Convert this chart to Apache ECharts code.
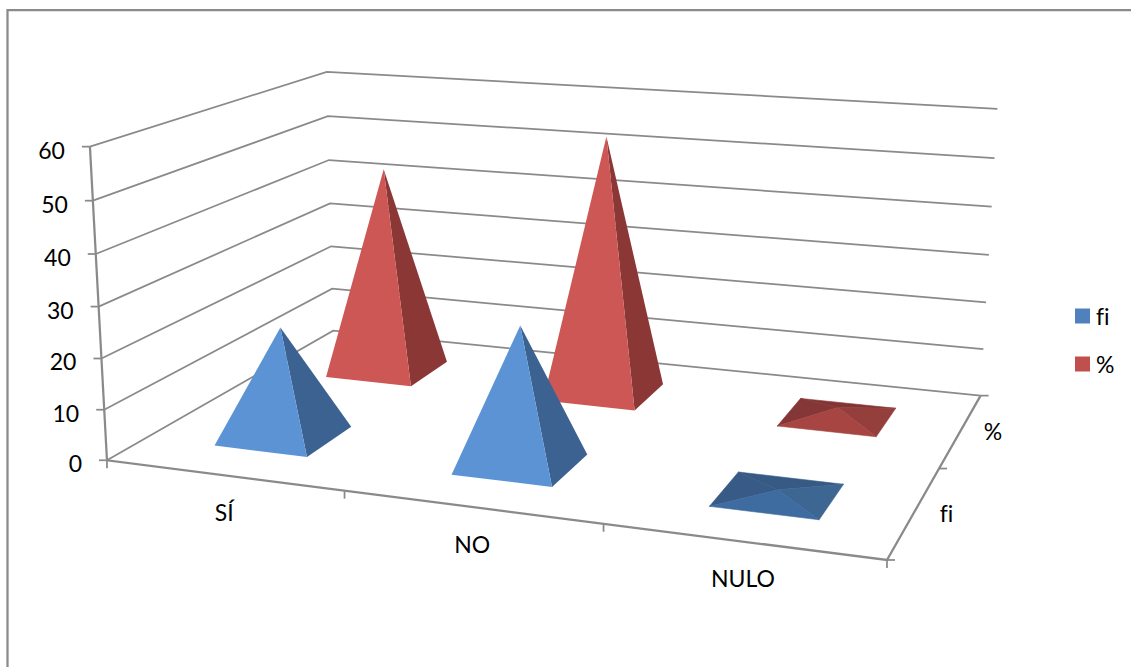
<!DOCTYPE html>
<html>
<head>
<meta charset="utf-8">
<style>html,body{margin:0;padding:0;background:#fff}#c{width:1131px;height:667px}text{font-variant-ligatures:none !important}</style>
<script src="https://cdn.jsdelivr.net/npm/echarts@6/dist/echarts.min.js"></script>
</head>
<body>
<div id="c"></div>
<script>
// ---- data ----
const categories = ['SÍ', 'NO', 'NULO'];
const depthNames = ['fi', '%'];
const valueTicks = [0, 10, 20, 30, 40, 50, 60];
const fiValues = [22, 27, 1];
const pctValues = [44, 54, 2];

// ---- colours ----
const LINE = '#8a8a8a', TEXT = '#000000', FONT = '23px Lato, "Open Sans", sans-serif';
const SHADES = {
  fi:  { tall: { front: '#5b93d5', right: '#3c6291' }, flat: { front: '#3e6ba0', right: '#3d6693', back: '#375a84', left: '#375b86' } },
  pct: { tall: { front: '#cd5754', right: '#8a3736' }, flat: { front: '#a74543', right: '#953f3d', back: '#833534', left: '#853636' } }
};

// ---- view: maps chart space (x along categories, y = value share, z = depth) to the page ----
const VIEW_POINTS = [
  // x, y, z, page x, page y
  [0, 0, 0, 107.5, 460.5], [1, 0, 0, 887, 560], [1, 0, 1, 980.5, 395.5], [0, 0, 1, 333, 331],
  [0, 1, 0, 90, 147], [0, 1, 1, 327, 72], [1, 1, 1, 997.3, 108.7],
  [0, .5, 0, 98, 306], [0, .5, 1, 330, 203], [1, .5, 1, 989, 255]
];
function fitView(pts) {
  const n = 11, A = Array.from({ length: n }, () => new Array(n + 1).fill(0));
  const add = (r, b) => { for (let i = 0; i < n; i++) { for (let j = 0; j < n; j++) A[i][j] += r[i] * r[j]; A[i][n] += r[i] * b; } };
  pts.forEach(([x, y, z, px, py]) => {
    const u = px / 1000, v = py / 1000;
    add([x, y, z, 1, 0, 0, 0, 0, -u * x, -u * y, -u * z], u);
    add([0, 0, 0, 0, x, y, z, 1, -v * x, -v * y, -v * z], v);
  });
  for (let i = 0; i < n; i++) {
    let p = i;
    for (let k = i + 1; k < n; k++) if (Math.abs(A[k][i]) > Math.abs(A[p][i])) p = k;
    [A[i], A[p]] = [A[p], A[i]];
    for (let k = 0; k < n; k++) if (k !== i) {
      const f = A[k][i] / A[i][i];
      for (let j = i; j <= n; j++) A[k][j] -= f * A[i][j];
    }
  }
  return A.map((r, i) => r[n] / r[i]);
}
const M = fitView(VIEW_POINTS);
function project(x, y, z) {
  const w = M[8] * x + M[9] * y + M[10] * z + 1;
  return [1000 * (M[0] * x + M[1] * y + M[2] * z + M[3]) / w, 1000 * (M[4] * x + M[5] * y + M[6] * z + M[7]) / w];
}

// hidden cartesian that supplies the scales
const GRID = { left: 100, top: 100, width: 600, height: 300 };
const BAR_W = 0.4, BAR_D = 0.4;
const toX = px => (px - GRID.left) / GRID.width;
const toY = py => (GRID.top + GRID.height - py) / GRID.height;
const line = (points, width) => ({ type: 'polyline', shape: { points }, style: { stroke: LINE, lineWidth: width || 1.75, fill: null } });
const label = (text, p, align) => ({ type: 'text', style: { text, x: p[0], y: p[1], font: FONT, fill: TEXT, align: align || 'center', verticalAlign: 'middle' } });

function renderPyramid(key, zIndex) {
  return function (params, api) {
    const c = api.coord([api.value(0), api.value(1)]);
    const bw = api.size([1, 0])[0] / GRID.width;
    const x = toX(c[0]), h = toY(c[1]);
    const z = (zIndex + 0.5) / depthNames.length;
    const dx = bw * BAR_W / 2, dz = BAR_D / depthNames.length / 2;
    const fl = project(x - dx, 0, z - dz), fr = project(x + dx, 0, z - dz);
    const br = project(x + dx, 0, z + dz), bl = project(x - dx, 0, z + dz);
    const top = project(x, h, z);
    const flat = api.value(1) < 5;
    const s = flat ? SHADES[key].flat : SHADES[key].tall;
    const face = (pts, fill) => ({ type: 'polygon', shape: { points: pts }, style: flat ? { fill, stroke: fill, lineWidth: 0.6 } : { fill } });
    const children = [];
    if (flat) {
      children.push(face([bl, br, top], s.back), face([bl, fl, top], s.left));
    }
    children.push(face([fr, br, top], s.right), face([fl, fr, top], s.front));
    return { type: 'group', children };
  };
}

function renderValueAxis(params, api) {
  const c = api.coord([0, api.value(1)]);
  const h = toY(c[1]);
  const a = project(0, h, 0), b = project(0, h, 1), d = project(1, h, 1);
  return { type: 'group', children: [
    line([a, b, d]),
    line([[a[0] - 8, a[1]], a]),
    label(String(api.value(1)), [a[0] - 25, a[1] + 3], 'right')
  ] };
}
function renderCategoryAxis(params, api) {
  const i = api.value(0);
  const c = api.coord([i, 0]);
  const bw = api.size([1, 0])[0] / GRID.width;
  const x = toX(c[0]);
  const m = project(x, 0, 0), t = project(x + bw / 2, 0, 0);
  const kids = [line([t, [t[0], t[1] + 8]]), label(categories[i], [m[0] + 1, m[1] + 37])];
  if (i === 0) { const s = project(0, 0, 0); kids.push(line([s, [s[0], s[1] + 8]])); }
  return { type: 'group', children: kids };
}
function renderDepthAxis(params, api) {
  const j = api.value(0), n = depthNames.length;
  const m = project(1, 0, (j + 0.5) / n), t = project(1, 0, (j + 1) / n);
  const kids = [line([t, [t[0] + 8, t[1]]]), label(depthNames[j], [m[0] + 32, m[1] + 1])];
  if (j === 0) { const s = project(1, 0, 0); kids.push(line([s, [s[0] + 8, s[1]]])); }
  return { type: 'group', children: kids };
}
function renderFrame() {
  const a = project(0, 0, 0), b = project(1, 0, 0), c = project(1, 0, 1), d = project(0, 1, 0);
  return { type: 'group', children: [line([d, a, b, c], 2.25)] };
}

const chart = echarts.init(document.getElementById('c'), null, { renderer: 'svg' });
chart.setOption({
  animation: false,
  backgroundColor: '#ffffff',
  grid: GRID,
  xAxis: { type: 'category', data: categories, show: false },
  yAxis: { type: 'value', min: 0, max: 60, interval: 10, show: false },
  legend: {
    data: ['fi', '%'], orient: 'vertical', left: 1075, top: 304, icon: 'rect',
    itemWidth: 15, itemHeight: 15, itemGap: 24,
    textStyle: { fontFamily: 'Lato', fontSize: 23, lineHeight: 22, color: TEXT, padding: [2, 0, 0, 1] },
    selectedMode: false, padding: 0
  },
  graphic: [
    { type: 'polyline', silent: true, z: 0, shape: { points: [[7.5, 667], [7.5, 10], [1131, 10]] }, style: { stroke: LINE, lineWidth: 2.25, fill: null } }
  ],
  series: [
    { type: 'custom', name: 'value axis', z: 1, clip: false, silent: true, renderItem: renderValueAxis, data: valueTicks.map(t => [0, t]) },
    { type: 'custom', name: 'category axis', z: 1, clip: false, silent: true, renderItem: renderCategoryAxis, data: categories.map((c, i) => [i, 0]) },
    { type: 'custom', name: 'depth axis', z: 1, clip: false, silent: true, renderItem: renderDepthAxis, data: depthNames.map((c, j) => [j, 0]) },
    { type: 'custom', name: 'frame', z: 1, clip: false, silent: true, renderItem: renderFrame, data: [[0, 0]] },
    { type: 'custom', name: '%', z: 2, clip: false, itemStyle: { color: '#c0504d' }, renderItem: renderPyramid('pct', 1), data: pctValues.map((v, i) => [i, v]) },
    { type: 'custom', name: 'fi', z: 3, clip: false, itemStyle: { color: '#4f81bd' }, renderItem: renderPyramid('fi', 0), data: fiValues.map((v, i) => [i, v]) }
  ]
});
</script>
</body>
</html>
